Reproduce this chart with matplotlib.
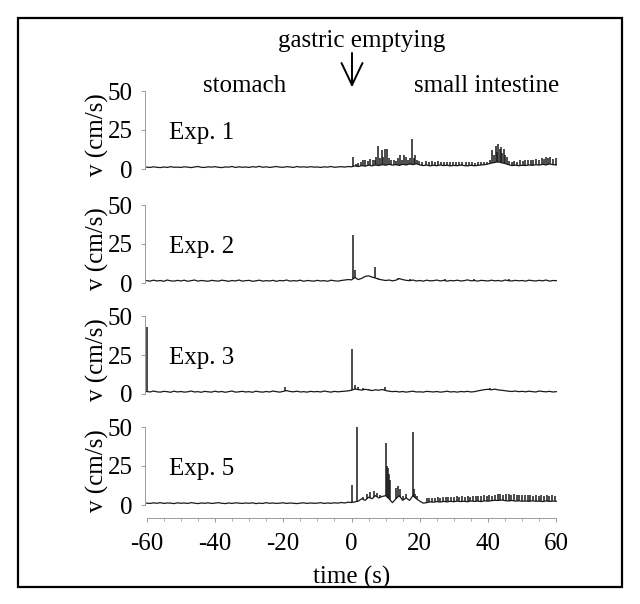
import numpy as np
import matplotlib.pyplot as plt
from matplotlib.patches import Rectangle
from matplotlib.lines import Line2D

plt.rcParams['font.family'] = ['Liberation Serif', 'DejaVu Serif']
plt.rcParams['axes.unicode_minus'] = False

# time grid of the baseline traces (s)
time = list(range(-60, 61))

# baseline velocity, one value per second (cm/s)
exp1_base = [1.2, 1.0, 1.4, 1.1, 0.9, 1.3, 1.0, 1.5, 1.1, 1.2,
             1.0, 1.4, 1.2, 0.9, 1.3, 1.6, 1.1, 1.0, 1.4, 1.2,
             1.5, 1.1, 0.9, 1.3, 1.2, 1.6, 1.0, 1.4, 1.1, 1.3,
             1.0, 1.5, 1.2, 1.7, 1.1, 1.4, 1.0, 1.3, 1.6, 1.2,
             1.1, 1.5, 1.3, 1.0, 1.6, 1.2, 1.4, 1.1, 1.5, 1.2,
             1.3, 1.0, 1.4, 1.2, 1.6, 1.1, 1.3, 1.5, 1.2, 1.6,
             1.4, 2.0, 1.6, 2.2, 1.8, 2.5, 2.0, 2.6, 2.2, 2.8,
             2.4, 3.0, 2.5, 2.8, 2.3, 3.0, 2.6, 3.2, 2.8, 3.4,
             2.6, 2.2, 2.5, 2.0, 2.4, 2.1, 2.6, 2.2, 2.4, 2.0,
             2.3, 2.1, 2.5, 2.2, 2.0, 2.4, 2.1, 2.3, 2.6, 2.8,
             3.2, 3.8, 4.2, 4.6, 4.0, 3.5, 2.8, 2.2, 2.5, 2.1,
             2.4, 2.2, 2.6, 2.3, 2.8, 2.5, 3.0, 2.6, 3.2, 2.8, 2.6]
exp2_base = [1.5, 1.2, 1.8, 1.3, 1.6, 1.1, 1.9, 1.4, 1.2, 1.7,
             1.3, 1.8, 1.1, 1.5, 1.9, 1.2, 1.6, 1.4, 1.1, 1.7,
             1.4, 1.2, 1.8, 1.5, 1.1, 1.6, 1.3, 1.9, 1.2, 1.5,
             1.7, 1.1, 1.4, 1.8, 1.2, 1.5, 1.3, 1.7, 1.1, 1.6,
             1.4, 1.9, 1.2, 1.5, 1.3, 1.8, 1.1, 1.6, 1.4, 1.2,
             1.7, 1.3, 1.5, 1.1, 1.8, 1.4, 1.2, 1.6, 1.9, 2.2,
             2.0, 3.5, 2.2, 3.0, 4.2, 4.6, 3.8, 3.2, 2.4, 2.0,
             1.6, 1.9, 1.4, 1.8, 2.8, 2.2, 1.7, 1.5, 1.9, 1.3,
             1.6, 1.2, 1.8, 1.4, 1.5, 1.9, 1.3, 1.7, 1.2, 1.6,
             1.4, 1.8, 1.3, 1.5, 2.0, 1.4, 1.6, 1.2, 1.7, 1.5,
             1.3, 1.8, 1.4, 1.6, 1.2, 1.9, 1.5, 1.3, 1.7, 1.4,
             1.6, 1.2, 1.8, 1.5, 1.3, 1.7, 1.4, 1.9, 1.2, 1.6, 1.5]
exp3_base = [1.6, 1.3, 1.9, 1.4, 1.2, 1.7, 1.5, 1.1, 1.8, 1.3,
             1.6, 1.2, 1.4, 1.9, 1.3, 1.5, 1.1, 1.7, 1.4, 1.2,
             1.8, 1.3, 1.6, 1.1, 1.5, 1.9, 1.2, 1.4, 1.7, 1.3,
             1.5, 1.1, 1.8, 1.4, 1.2, 1.6, 1.3, 1.9, 1.5, 1.2,
             1.7, 2.2, 1.6, 1.4, 1.8, 1.3, 1.5, 1.2, 1.7, 1.4,
             1.6, 1.3, 1.9, 1.5, 1.2, 1.7, 1.4, 1.6, 1.8, 2.0,
             2.4, 3.2, 2.8, 2.5, 3.0, 2.6, 2.2, 2.7, 2.4, 2.9,
             2.2, 1.8, 1.5, 1.7, 1.3, 1.6, 1.2, 1.5, 1.8, 1.3,
             1.4, 1.2, 1.7, 1.5, 1.3, 1.6, 1.2, 1.4, 1.8, 1.3,
             1.5, 1.2, 1.6, 1.4, 1.7, 1.3, 1.5, 2.0, 2.4, 2.8,
             3.0, 2.7, 3.1, 2.6, 2.4, 2.1, 1.8, 1.6, 1.9, 1.5,
             1.7, 1.4, 1.8, 1.5, 1.3, 1.9, 1.6, 1.4, 1.7, 1.3, 1.5]
exp5_base = [1.2, 1.0, 1.4, 1.1, 1.5, 1.0, 1.3, 1.2, 0.9, 1.4,
             1.1, 1.3, 1.0, 1.5, 1.2, 0.9, 1.3, 1.1, 1.4, 1.0,
             1.2, 1.5, 1.1, 0.9, 1.3, 1.0, 1.4, 1.2, 1.0, 1.3,
             1.1, 1.4, 0.9, 1.2, 1.0, 1.5, 1.1, 1.3, 1.0, 1.2,
             1.4, 1.0, 1.3, 1.1, 0.9, 1.2, 1.4, 1.0, 1.3, 1.1,
             1.2, 1.5, 1.0, 1.3, 1.1, 1.4, 1.2, 1.6, 1.3, 1.8,
             1.6, 2.0, 2.5, 4.0, 3.0, 5.0, 4.0, 6.0, 4.5, 5.5,
             6.0, 4.0, 1.5, 4.0, 6.0, 3.0, 4.5, 3.0, 6.0, 4.0,
             2.5, 1.2, 1.5, 2.0, 1.8, 2.2, 1.9, 2.3, 2.0, 2.4,
             2.1, 2.5, 2.2, 2.4, 2.1, 2.6, 2.3, 2.5, 2.2, 2.7,
             2.4, 2.8, 3.0, 2.9, 3.2, 2.8, 2.6, 2.9, 2.5, 2.7,
             2.4, 2.6, 2.3, 2.7, 2.4, 2.5, 2.2, 2.6, 2.3, 2.5, 2.4]

# short velocity peaks: time (s) and peak value (cm/s)
exp1_peak_t = [0.3, 1.2, 2.0, 2.7, 3.4, 4.1, 4.8, 5.5, 6.2, 6.8, 7.3, 7.8, 8.3, 8.8,
               9.2, 9.7, 10.4, 11.0, 11.7, 12.4, 13.0, 13.7, 14.3, 14.8, 15.3, 16.0,
               16.6, 17.2, 17.8, 18.3, 18.7, 19.3, 19.9, 20.8, 21.7, 22.6, 23.5, 24.4,
               25.3, 26.2, 27.1, 28.0, 28.9, 29.8, 30.7, 31.6, 32.5, 33.4, 34.3, 35.2,
               36.1, 37.0, 37.9, 38.8, 39.7, 40.6, 41.2, 41.7, 42.2, 42.6, 43.0, 43.4,
               43.8, 44.2, 44.6, 45.0, 45.6, 46.1, 46.9, 47.7, 48.5, 49.3, 50.1, 50.9,
               51.7, 52.5, 53.3, 54.1, 54.9, 55.7, 56.5, 56.9, 57.5, 58.3, 59.1, 59.8]
exp1_peak_v = [7.5, 3.5, 4.0, 4.5, 5.5, 6.0, 5.0, 6.5, 5.5, 6.0, 8.0, 15.0, 7.0, 12.0,
               8.0, 13.0, 13.0, 7.0, 5.5, 6.0, 5.0, 7.0, 9.0, 6.0, 9.0, 8.0,
               6.0, 7.0, 19.0, 7.0, 9.0, 6.0, 5.0, 4.5, 5.0, 4.5, 5.0, 4.5,
               5.0, 4.5, 4.8, 4.5, 4.2, 4.6, 4.3, 4.5, 4.2, 4.6, 4.2, 4.4,
               4.1, 4.3, 4.5, 4.2, 4.6, 5.5, 12.0, 9.0, 15.0, 11.0, 16.0, 13.0,
               14.0, 10.0, 13.0, 9.0, 8.0, 5.0, 4.5, 5.0, 4.5, 5.5, 5.0, 6.0,
               5.5, 6.0, 5.5, 6.5, 6.0, 7.0, 6.5, 8.0, 7.0, 7.5, 6.5, 7.0]
exp2_peak_t = [0.35, 1.0, 6.9, 7.8, 13.6, 17.0, 27.5, 36.0, 46.0]
exp2_peak_v = [31.0, 8.5, 10.0, 3.5, 3.0, 2.8, 2.8, 2.7, 2.6]
exp3_peak_t = [-59.8, -19.5, 0.25, 1.0, 2.0, 3.3, 5.0, 9.7, 39.0, 40.5, 42.0]
exp3_peak_v = [43.0, 4.5, 29.0, 6.0, 4.5, 4.0, 3.5, 4.2, 3.5, 4.0, 3.5]
exp5_peak_t = [0.05, 1.7, 3.3, 4.5, 5.5, 6.5, 7.4, 8.4, 10.0, 10.3, 10.6, 10.9, 11.2,
               13.0, 13.5, 14.3, 15.2, 16.0, 18.0, 18.3, 18.7, 19.2,
               22.0, 22.8, 23.6, 24.4, 25.2, 26.0, 26.8, 27.6, 28.4, 29.2, 30.0, 30.8,
               31.6, 32.4, 33.2, 34.0, 34.8, 35.6, 36.4, 37.2, 38.0, 38.8, 39.6, 40.4,
               41.2, 42.0, 42.8, 43.6, 44.4, 45.2, 46.0, 46.8, 47.6, 48.4, 49.2, 50.0,
               50.8, 51.6, 52.4, 53.2, 54.0, 54.8, 55.6, 56.4, 57.2, 58.0, 58.8, 59.6]
exp5_peak_v = [13.0, 50.0, 5.0, 7.0, 8.5, 9.0, 7.5, 6.4, 40.0, 25.0, 24.0, 20.0, 16.0,
               11.0, 12.0, 10.0, 6.0, 7.0, 47.0, 10.0, 7.0, 5.5,
               4.2, 4.5, 4.8, 4.6, 5.0, 4.8, 5.2, 4.9, 5.1, 5.4, 5.0, 5.5,
               5.2, 5.6, 5.3, 5.8, 5.4, 5.9, 5.5, 6.0, 5.6, 6.2, 5.8, 6.4,
               6.0, 6.5, 6.8, 7.0, 6.6, 7.2, 6.8, 6.5, 6.9, 6.4, 6.7, 6.2,
               6.5, 6.1, 6.4, 6.0, 6.3, 5.9, 6.2, 5.8, 6.1, 5.9, 6.2, 6.0]

experiments = ['Exp. 1', 'Exp. 2', 'Exp. 3', 'Exp. 5']
bases = [exp1_base, exp2_base, exp3_base, exp5_base]
peaks = [(exp1_peak_t, exp1_peak_v), (exp2_peak_t, exp2_peak_v),
         (exp3_peak_t, exp3_peak_v), (exp5_peak_t, exp5_peak_v)]

fig = plt.figure(figsize=(6.4, 6.04), dpi=100)
W, H = 640, 604

axis_gray = '#8c8c8c'
trace_col = '#1a1a1a'
fs = 18

# zero line of each panel, in pixels from the top
zero_px = [169, 283, 394, 505]
px_per_unit = 1.56
x_left, x_right = 145, 558

for i, (name, base, (pt, pv), z) in enumerate(zip(experiments, bases, peaks, zero_px)):
    ymin, ymax = -8.3, 52
    top_px = z - ymax * px_per_unit
    bot_px = z - ymin * px_per_unit
    ax = fig.add_axes([x_left / W, 1 - bot_px / H,
                       (x_right - x_left) / W, (bot_px - top_px) / H])
    ax.set_xlim(-60.5, 60.5)
    ax.set_ylim(ymin, ymax)

    ax.plot(time, base, color=trace_col, lw=0.9)
    start = np.interp(pt, time, base)
    ax.vlines(pt, start, pv, color=trace_col, lw=1.1)

    for s in ['top', 'right']:
        ax.spines[s].set_visible(False)
    ax.spines['left'].set_bounds(0, 50)
    ax.spines['left'].set_color(axis_gray)
    ax.spines['left'].set_linewidth(0.6)
    ax.spines['left'].set_linestyle((0, (3, 1)))
    ax.set_yticks([0, 25, 50])
    ax.tick_params(axis='y', length=3, width=0.6, color=axis_gray, pad=6, labelsize=fs)

    if i == len(experiments) - 1:
        ax.spines['bottom'].set_bounds(-60, 60)
        ax.spines['bottom'].set_color(axis_gray)
        ax.spines['bottom'].set_linewidth(0.6)
        ax.spines['bottom'].set_linestyle((0, (3, 1)))
        ax.set_xticks([-60, -40, -20, 0, 20, 40, 60])
        ax.set_xticks(np.arange(-60, 61, 5), minor=True)
        ax.tick_params(axis='x', length=3, width=0.6, color=axis_gray, pad=8, labelsize=fs)
        ax.tick_params(axis='x', which='minor', length=2, width=0.5, color=axis_gray)
    else:
        ax.spines['bottom'].set_visible(False)
        ax.set_xticks([])

    ax.text(-53.5, 23, name, fontsize=fs, va='center', ha='left')
    ax.text(-0.115, 22, 'v (cm/s)', fontsize=fs, rotation=90, va='center', ha='center',
            transform=ax.get_yaxis_transform())

fig.text(352 / W, 1 - 577 / H, 'time (s)', fontsize=fs, ha='center', va='center')
fig.text(362 / W, 1 - 41 / H, 'gastric emptying', fontsize=fs, ha='center', va='center')
fig.text(245 / W, 1 - 86 / H, 'stomach', fontsize=fs, ha='center', va='center')
fig.text(487 / W, 1 - 86 / H, 'small intestine', fontsize=fs, ha='center', va='center')

# downward arrow under "gastric emptying": shaft plus open V head
ax_x, ax_top, ax_tip = 352, 53, 85
arrow_kw = dict(transform=fig.transFigure, color='black', lw=1.4, solid_capstyle='round')
fig.add_artist(Line2D([ax_x / W, ax_x / W], [1 - ax_top / H, 1 - ax_tip / H], **arrow_kw))
fig.add_artist(Line2D([(ax_x - 10.5) / W, ax_x / W, (ax_x + 10.5) / W],
                      [1 - 63 / H, 1 - ax_tip / H, 1 - 63 / H], **arrow_kw))

# frame around the whole figure
fig.add_artist(Rectangle((18 / W, 1 - 587 / H), 604 / W, 569 / H, transform=fig.transFigure,
                         fill=False, edgecolor='black', lw=1.6))

fig.savefig('out.png', dpi=100)
